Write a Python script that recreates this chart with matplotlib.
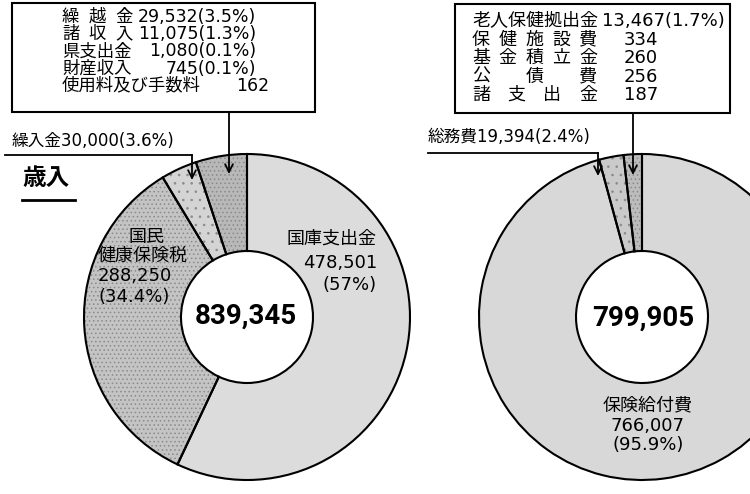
import matplotlib
matplotlib.use('Agg')
import matplotlib.pyplot as plt
from matplotlib.patches import Rectangle

plt.rcParams['font.family'] = ['DejaVu Sans', 'Noto Sans CJK JP']
plt.rcParams['hatch.linewidth'] = 0.6

# 歳入 (revenue)
rev_main_labels = ['国庫支出金', '国民\n健康保険税', '繰入金']
rev_main_values = [478501, 288250, 30000]
rev_main_pct = [57, 34.4, 3.6]
rev_other_labels = ['繰越金', '諸収入', '県支出金', '財産収入', '使用料及び手数料']
rev_other_values = [29532, 11075, 1080, 745, 162]
rev_other_pct = [3.5, 1.3, 0.1, 0.1, None]

# 歳出 (expenditure)
exp_main_labels = ['保険給付費', '総務費']
exp_main_values = [766007, 19394]
exp_main_pct = [95.9, 2.4]
exp_other_labels = ['老人保健拠出金', '保健施設費', '基金積立金', '公債費', '諸支出金']
exp_other_values = [13467, 334, 260, 256, 187]
exp_other_pct = [1.7, None, None, None, None]

rev_colors = ['#dcdcdc', '#c4c4c4', '#d4d4d4', '#b8b8b8']
rev_hatch = ['', '....', '..', '....']
exp_colors = ['#d8d8d8', '#cacaca', '#bcbcbc']
exp_hatch = ['', '..', '....']

W, H = 750, 494


def Y(y):
    # pixel row from the top -> data y
    return H - y


def fmt_val(v, p):
    s = f'{v:,}'
    if p is not None:
        s += f'({p:g}%)'
    return s


def spread_label(ax, text, x_left, x_right, y, fs, max_len):
    # 均等割り: spread short labels over a fixed width
    if len(text) > max_len:
        ax.text(x_left, y, text, ha='left', va='center', fontsize=fs)
        return
    cw = fs * 100 / 72
    n = len(text)
    first = x_left + cw / 2
    last = x_right - cw / 2
    for i, ch in enumerate(text):
        x = first + i * (last - first) / (n - 1)
        ax.text(x, y, ch, ha='center', va='center', fontsize=fs)


def arrow(ax, x, y0, y1):
    ax.annotate('', xy=(x, Y(y1)), xytext=(x, Y(y0)),
                arrowprops=dict(arrowstyle='->', lw=1.3, color='black',
                                mutation_scale=14, shrinkA=0, shrinkB=0))


def donut(ax, vals, colors, hatches, cx, cy):
    r_out, r_in = 163, 66
    # fill + halftone-ish texture, then the black outlines on top
    ax.pie(vals, colors=colors, startangle=90, counterclock=False, radius=r_out,
           center=(cx, cy), hatch=hatches,
           wedgeprops=dict(width=r_out - r_in, edgecolor='#8a8a8a', linewidth=0))
    ax.pie(vals, colors=['none'] * len(vals), startangle=90, counterclock=False,
           radius=r_out, center=(cx, cy),
           wedgeprops=dict(width=r_out - r_in, edgecolor='black', linewidth=1.5))


fig = plt.figure(figsize=(7.5, 4.94), dpi=100)
ax = fig.add_axes([0, 0, 1, 1])

rev_vals = rev_main_values + [sum(rev_other_values)]
donut(ax, rev_vals, rev_colors, rev_hatch, 247, Y(317))

exp_vals = exp_main_values + [sum(exp_other_values)]
donut(ax, exp_vals, exp_colors, exp_hatch, 642, Y(317))

ax.set_xlim(0, W)
ax.set_ylim(0, H)
ax.set_aspect('equal')
ax.axis('off')

# totals in the middle
ax.text(246, Y(316), f'{sum(rev_vals):,}', ha='center', va='center',
        fontsize=20, fontweight='bold', family='Roboto')
ax.text(643, Y(318), f'{sum(exp_vals):,}', ha='center', va='center',
        fontsize=20, fontweight='bold', family='Roboto')

# labels inside the rings
ax.text(377, Y(239), rev_main_labels[0], ha='right', va='center', fontsize=13)
ax.text(377, Y(263), f'{rev_main_values[0]:,}', ha='right', va='center', fontsize=13)
ax.text(377, Y(285), f'({rev_main_pct[0]:g}%)', ha='right', va='center', fontsize=13)

top, second = rev_main_labels[1].split('\n')
ax.text(146, Y(237), top, ha='center', va='center', fontsize=13)
ax.text(98, Y(256), second, ha='left', va='center', fontsize=13)
ax.text(98, Y(276), f'{rev_main_values[1]:,}', ha='left', va='center', fontsize=13)
ax.text(98, Y(297), f'({rev_main_pct[1]:g}%)', ha='left', va='center', fontsize=13)

ax.text(648, Y(405), exp_main_labels[0], ha='center', va='center', fontsize=13)
ax.text(648, Y(426), f'{exp_main_values[0]:,}', ha='center', va='center', fontsize=13)
ax.text(648, Y(445), f'({exp_main_pct[0]:g}%)', ha='center', va='center', fontsize=13)

# 歳入 title
ax.text(22, Y(178), '歳入', ha='left', va='center', fontsize=17, fontweight='bold')
ax.plot([22, 75], [Y(200), Y(200)], color='black', lw=2)

# 繰入金 callout
ax.text(12, Y(141), rev_main_labels[2] + fmt_val(rev_main_values[2], rev_main_pct[2]),
        ha='left', va='center', fontsize=12)
ax.plot([5, 192], [Y(155), Y(155)], color='black', lw=1.3)
arrow(ax, 192, 155, 180)

# 総務費 callout
ax.text(428, Y(137), exp_main_labels[1] + fmt_val(exp_main_values[1], exp_main_pct[1]),
        ha='left', va='center', fontsize=12)
ax.plot([428, 598], [Y(153), Y(153)], color='black', lw=1.3)
arrow(ax, 598, 153, 176)

# revenue box
ax.add_patch(Rectangle((12, Y(112)), 303, 109, fill=False, edgecolor='black', lw=1.5))
for i, (lab, v, p) in enumerate(zip(rev_other_labels, rev_other_values, rev_other_pct)):
    y = Y(17 + i * 17.2)
    spread_label(ax, lab, 62, 133, y, 12.5, 3)
    ax.text(256 if p is not None else 269, y, fmt_val(v, p), ha='right', va='center', fontsize=12.5)
arrow(ax, 229, 112, 174)

# expenditure box
ax.add_patch(Rectangle((455, Y(113)), 275, 109, fill=False, edgecolor='black', lw=1.5))
for i, (lab, v, p) in enumerate(zip(exp_other_labels, exp_other_values, exp_other_pct)):
    y = Y(21 + i * 18.5)
    spread_label(ax, lab, 472, 597, y, 13, 5)
    if p is not None:
        ax.text(725, y, fmt_val(v, p), ha='right', va='center', fontsize=13)
    else:
        ax.text(658, y, fmt_val(v, p), ha='right', va='center', fontsize=13)
arrow(ax, 633, 113, 175)

fig.savefig('out.png', dpi=100, facecolor='white')
